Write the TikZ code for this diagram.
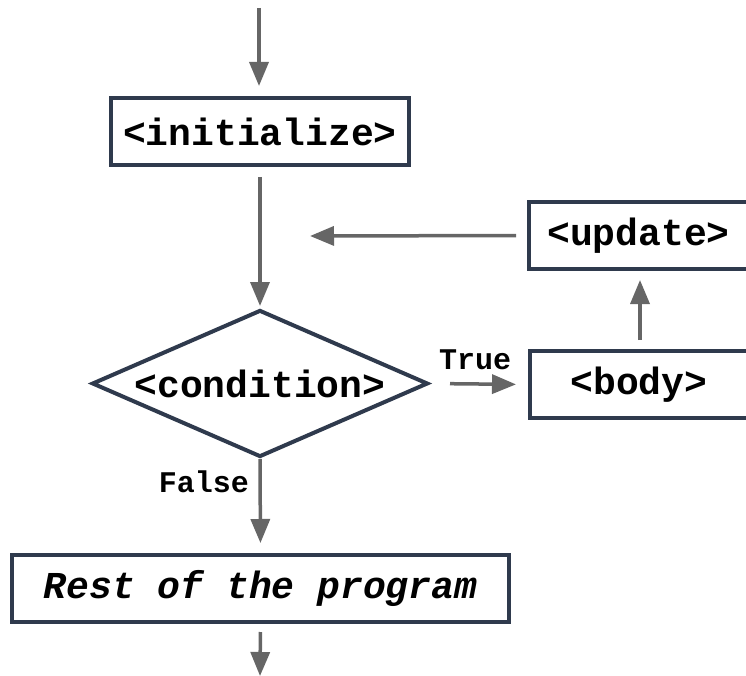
\documentclass[tikz,border=0pt]{standalone}
\usepackage{fontspec}
\newfontfamily\codefont{Liberation Mono}
\usetikzlibrary{arrows.meta,shapes.geometric}
\definecolor{boxline}{HTML}{2F3A4D}
\definecolor{arrowgray}{HTML}{666666}
\tikzset{
  stepbox/.style={draw=boxline, line width=4pt, fill=white, inner sep=0pt,
    minimum height=67pt, font=\codefont\bfseries\fontsize{38}{40}\selectfont},
  decision/.style={draw=boxline, line width=4pt, fill=white, diamond, aspect=2.29,
    inner sep=0pt, minimum width=336pt, minimum height=147pt,
    font=\codefont\bfseries\fontsize{38}{40}\selectfont},
  flow/.style={draw=arrowgray, line width=3.5pt,
    -{Triangle[length=24pt,width=19pt]}},
  edgelabel/.style={inner sep=0pt, font=\codefont\bfseries\fontsize{30}{32}\selectfont}
}
\begin{document}
\begin{tikzpicture}[x=1pt,y=-1pt]
  \clip (0,0) rectangle (746,676);
  % nodes
  \node[stepbox, minimum width=298pt] (init) at (260,131.5) {<initialize>};
  \node[decision] (cond) at (260,383.5) {<condition>};
  \node[stepbox, minimum width=220pt] (body) at (640,384.5) {\hspace*{-2pt}<body>};
  \node[stepbox, minimum width=221pt] (update) at (639.5,235.5) {\hspace*{-2pt}<update>};
  \node[stepbox, minimum width=497pt, font=\codefont\bfseries\itshape\fontsize{38}{40}\selectfont]
    (rest) at (260.5,588.5) {Rest of the program};
  \coordinate (entry) at (259,8);
  \coordinate (back) at (310,236);
  \coordinate (exit) at (260,676);
  % connectors
  \draw[flow, shorten >=10pt] (entry) -- (entry |- init.north);
  \draw[flow, shorten <=10pt, shorten >=2pt] (init.south) -- (cond.north);
  \draw[flow, shorten <=20pt, shorten >=12pt] (cond.east) -- (body.west);
  \draw[flow, shorten <=9pt, shorten >=9pt] (body.north) -- (body.north |- update.south);
  \draw[flow, shorten <=11pt] (update.west) -- (back);
  \draw[flow, shorten >=10pt] (cond.south) -- (rest.north);
  \draw[flow, shorten <=8pt] (rest.south) -- (exit);
  % branch labels
  \node[edgelabel] (truelbl) at (475,360) {True};
  \node[edgelabel] (falselbl) at (204,482) {False};
\end{tikzpicture}
\end{document}
